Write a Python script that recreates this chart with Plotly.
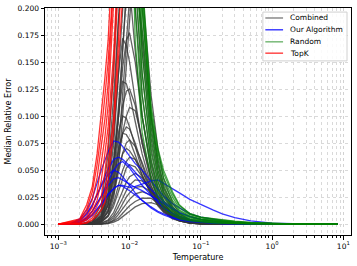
import plotly.graph_objects as go

# ---------------- data ----------------
# Combined (gray)
T_COMB = [0.001, 0.002, 0.003, 0.004, 0.005, 0.006, 0.007, 0.008, 0.009, 0.01, 0.012, 0.015,
          0.02, 0.025, 0.03, 0.04, 0.05, 0.07, 0.1, 0.2, 0.5, 1.0, 8.3]
COMBINED = [
    [0, 0, 0.002, 0.012, 0.04, 0.1, 0.19, 0.28, 0.33, 0.33, 0.26, 0.16, 0.08, 0.045, 0.028, 0.013, 0.007, 0.003, 0.001, 0, 0, 0, 0],
    [0, 0, 0.001, 0.008, 0.03, 0.075, 0.14, 0.21, 0.25, 0.26, 0.22, 0.14, 0.07, 0.04, 0.025, 0.012, 0.006, 0.002, 0.001, 0, 0, 0, 0],
    [0, 0, 0, 0.004, 0.018, 0.05, 0.1, 0.16, 0.22, 0.27, 0.29, 0.2, 0.1, 0.055, 0.033, 0.015, 0.008, 0.003, 0.001, 0, 0, 0, 0],
    [0, 0, 0.002, 0.014, 0.05, 0.12, 0.19, 0.23, 0.24, 0.22, 0.16, 0.1, 0.05, 0.03, 0.02, 0.009, 0.005, 0.002, 0.001, 0, 0, 0, 0],
    [0, 0, 0.001, 0.006, 0.025, 0.06, 0.11, 0.17, 0.22, 0.25, 0.24, 0.17, 0.09, 0.05, 0.03, 0.014, 0.007, 0.003, 0.001, 0, 0, 0, 0],
    [0, 0, 0, 0.003, 0.012, 0.035, 0.07, 0.12, 0.17, 0.21, 0.23, 0.18, 0.1, 0.06, 0.036, 0.017, 0.009, 0.004, 0.0015, 0, 0, 0, 0],
    [0, 0, 0.003, 0.018, 0.065, 0.15, 0.24, 0.3, 0.31, 0.28, 0.2, 0.12, 0.06, 0.035, 0.022, 0.01, 0.005, 0.002, 0.0007, 0, 0, 0, 0],
    [0, 0, 0, 0.002, 0.008, 0.025, 0.055, 0.1, 0.15, 0.2, 0.26, 0.22, 0.12, 0.07, 0.042, 0.02, 0.01, 0.004, 0.0015, 0, 0, 0, 0],
    [0, 0, 0.001, 0.006, 0.022, 0.055, 0.1, 0.145, 0.17, 0.177, 0.15, 0.1, 0.055, 0.032, 0.02, 0.009, 0.005, 0.002, 0.0007, 0, 0, 0, 0],
    [0, 0, 0.002, 0.01, 0.035, 0.085, 0.14, 0.172, 0.165, 0.15, 0.115, 0.075, 0.04, 0.024, 0.015, 0.007, 0.004, 0.0015, 0.0005, 0, 0, 0, 0],
    [0, 0, 0.001, 0.008, 0.027, 0.06, 0.1, 0.132, 0.13, 0.12, 0.095, 0.065, 0.036, 0.022, 0.014, 0.007, 0.004, 0.0015, 0.0005, 0, 0, 0, 0],
    [0, 0, 0.001, 0.005, 0.018, 0.045, 0.08, 0.11, 0.123, 0.125, 0.11, 0.075, 0.042, 0.025, 0.016, 0.008, 0.004, 0.0015, 0.0005, 0, 0, 0, 0],
    [0, 0, 0, 0.003, 0.012, 0.03, 0.06, 0.085, 0.1, 0.108, 0.105, 0.08, 0.045, 0.027, 0.017, 0.008, 0.004, 0.0015, 0.0005, 0, 0, 0, 0],
    [0, 0, 0.001, 0.007, 0.025, 0.055, 0.085, 0.1, 0.098, 0.09, 0.072, 0.05, 0.029, 0.018, 0.012, 0.006, 0.003, 0.001, 0.0004, 0, 0, 0, 0],
    [0, 0, 0.001, 0.005, 0.017, 0.04, 0.066, 0.084, 0.09, 0.088, 0.075, 0.055, 0.032, 0.02, 0.013, 0.006, 0.003, 0.001, 0.0004, 0, 0, 0, 0],
    [0, 0, 0.001, 0.006, 0.02, 0.045, 0.07, 0.084, 0.083, 0.078, 0.064, 0.046, 0.027, 0.017, 0.011, 0.005, 0.003, 0.001, 0.0003, 0, 0, 0, 0],
    [0, 0, 0, 0.003, 0.011, 0.028, 0.05, 0.066, 0.075, 0.078, 0.072, 0.057, 0.035, 0.022, 0.014, 0.007, 0.0035, 0.0012, 0.0004, 0, 0, 0, 0],
    [0, 0, 0.001, 0.004, 0.014, 0.032, 0.052, 0.065, 0.07, 0.068, 0.06, 0.045, 0.028, 0.018, 0.012, 0.006, 0.003, 0.001, 0.0003, 0, 0, 0, 0],
    [0, 0, 0, 0.002, 0.008, 0.02, 0.036, 0.05, 0.058, 0.062, 0.06, 0.05, 0.033, 0.022, 0.015, 0.008, 0.004, 0.0015, 0.0005, 0, 0, 0, 0],
    [0, 0, 0, 0.002, 0.007, 0.017, 0.03, 0.043, 0.052, 0.055, 0.053, 0.044, 0.03, 0.02, 0.014, 0.007, 0.004, 0.0015, 0.0005, 0, 0, 0, 0],
    [0, 0, 0, 0.001, 0.004, 0.011, 0.021, 0.031, 0.039, 0.044, 0.047, 0.043, 0.032, 0.022, 0.016, 0.009, 0.005, 0.002, 0.0007, 0, 0, 0, 0],
    [0, 0, 0, 0.001, 0.003, 0.008, 0.016, 0.024, 0.031, 0.036, 0.041, 0.04, 0.032, 0.024, 0.018, 0.01, 0.006, 0.0025, 0.0008, 0, 0, 0, 0],
    [0, 0, 0, 0, 0.002, 0.006, 0.012, 0.019, 0.025, 0.029, 0.034, 0.035, 0.03, 0.023, 0.017, 0.01, 0.006, 0.0025, 0.0009, 0, 0, 0, 0],
    [0, 0, 0, 0, 0.001, 0.004, 0.009, 0.014, 0.019, 0.023, 0.028, 0.03, 0.027, 0.021, 0.016, 0.01, 0.006, 0.0028, 0.001, 0, 0, 0, 0],
    [0, 0, 0, 0, 0.001, 0.003, 0.006, 0.01, 0.014, 0.017, 0.021, 0.024, 0.024, 0.02, 0.016, 0.01, 0.0065, 0.003, 0.0012, 0.0001, 0, 0, 0],
    [0, 0, 0, 0, 0.0005, 0.002, 0.004, 0.007, 0.01, 0.012, 0.016, 0.019, 0.02, 0.018, 0.015, 0.01, 0.007, 0.0035, 0.0015, 0.0002, 0, 0, 0],
]

# Our Algorithm (blue)
T_OURS = [0.001, 0.0015, 0.002, 0.0025, 0.003, 0.004, 0.005, 0.006, 0.007, 0.008, 0.01, 0.012, 0.015,
          0.02, 0.025, 0.03, 0.04, 0.05, 0.07, 0.1, 0.15, 0.2, 0.3, 0.5, 1.0, 2.0, 4.0, 8.3]
OURS = [
    [0, 0.0008, 0.005, 0.013, 0.024, 0.05, 0.067, 0.077, 0.076, 0.072, 0.063, 0.056, 0.05, 0.04, 0.032, 0.026, 0.019, 0.015, 0.0095, 0.0065, 0.0045, 0.003, 0.0017, 0.0008, 0.0002, 0.0001, 0, 0],
    [0, 0.0004, 0.003, 0.009, 0.017, 0.036, 0.051, 0.06, 0.062, 0.06, 0.054, 0.048, 0.041, 0.032, 0.026, 0.021, 0.015, 0.011, 0.007, 0.0045, 0.0027, 0.0017, 0.0009, 0.0004, 0.0001, 0, 0, 0],
    [0, 0.0002, 0.002, 0.006, 0.012, 0.026, 0.04, 0.05, 0.056, 0.058, 0.052, 0.045, 0.036, 0.027, 0.02, 0.015, 0.01, 0.007, 0.0045, 0.0028, 0.0017, 0.001, 0.0005, 0.0002, 0.0001, 0, 0, 0],
    [0, 0.0005, 0.004, 0.01, 0.018, 0.035, 0.046, 0.05, 0.048, 0.044, 0.036, 0.029, 0.022, 0.015, 0.011, 0.0085, 0.0055, 0.004, 0.0025, 0.0015, 0.0009, 0.0005, 0.0002, 0.0001, 0, 0, 0, 0],
    [0, 0, 0.001, 0.004, 0.008, 0.018, 0.027, 0.033, 0.036, 0.036, 0.034, 0.035, 0.037, 0.04, 0.041, 0.038, 0.033, 0.029, 0.023, 0.018, 0.013, 0.0095, 0.006, 0.003, 0.001, 0.0004, 0.0001, 0],
    [0, 0.0002, 0.0015, 0.005, 0.009, 0.019, 0.028, 0.033, 0.036, 0.035, 0.031, 0.027, 0.022, 0.016, 0.012, 0.0095, 0.0065, 0.0045, 0.003, 0.0018, 0.001, 0.0006, 0.0003, 0.0001, 0, 0, 0, 0],
    [0, 0.0003, 0.002, 0.006, 0.012, 0.025, 0.036, 0.042, 0.043, 0.041, 0.037, 0.034, 0.031, 0.026, 0.022, 0.019, 0.014, 0.0105, 0.007, 0.0045, 0.0028, 0.0018, 0.001, 0.0004, 0.0001, 0, 0, 0],
]

# Random (green)
T_RAND = [0.008, 0.01, 0.012, 0.015, 0.02, 0.025, 0.03, 0.04, 0.05, 0.07, 0.1, 0.15, 0.2, 0.3, 0.5, 1.0, 2.0, 4.0, 8.3]
RANDOM = [
    [0.6, 0.35, 0.17, 0.085, 0.042, 0.024, 0.015, 0.008, 0.005, 0.003, 0.0018, 0.0011, 0.0007, 0.0004, 0.0002, 0.0001, 0, 0, 0],
    [0.65, 0.4, 0.2, 0.1, 0.05, 0.029, 0.019, 0.01, 0.0065, 0.0038, 0.0024, 0.0015, 0.001, 0.0006, 0.0003, 0.0001, 0.00005, 0, 0],
    [0.7, 0.45, 0.24, 0.12, 0.058, 0.034, 0.022, 0.012, 0.0075, 0.0045, 0.003, 0.002, 0.0014, 0.0008, 0.0004, 0.0002, 0.0001, 0, 0],
    [0.7, 0.5, 0.28, 0.14, 0.066, 0.039, 0.026, 0.014, 0.009, 0.0052, 0.0035, 0.0024, 0.0017, 0.001, 0.0005, 0.0002, 0.0001, 0, 0],
    [0.75, 0.52, 0.31, 0.16, 0.075, 0.045, 0.03, 0.016, 0.01, 0.006, 0.004, 0.0028, 0.002, 0.0012, 0.0006, 0.0003, 0.0001, 0.00005, 0],
    [0.75, 0.55, 0.34, 0.18, 0.085, 0.05, 0.034, 0.019, 0.012, 0.007, 0.0045, 0.0032, 0.0024, 0.0015, 0.0008, 0.0004, 0.0002, 0.0001, 0],
    [0.8, 0.58, 0.36, 0.2, 0.094, 0.056, 0.038, 0.022, 0.013, 0.008, 0.005, 0.0036, 0.0028, 0.0018, 0.001, 0.0005, 0.0002, 0.0001, 0],
    [0.8, 0.6, 0.38, 0.21, 0.1, 0.062, 0.043, 0.025, 0.015, 0.009, 0.0058, 0.0041, 0.0032, 0.0021, 0.0012, 0.0006, 0.0003, 0.0001, 0],
    [0.8, 0.6, 0.4, 0.22, 0.105, 0.066, 0.047, 0.028, 0.017, 0.01, 0.0065, 0.0047, 0.0037, 0.0025, 0.0014, 0.0007, 0.0003, 0.0001, 0],
    [0.8, 0.6, 0.4, 0.23, 0.11, 0.07, 0.05, 0.03, 0.018, 0.0095, 0.0065, 0.005, 0.004, 0.0028, 0.0016, 0.0008, 0.0003, 0.0001, 0],
]

# TopK (red)
T_TOPK = [0.001, 0.002, 0.0025, 0.003, 0.0035, 0.004, 0.0045, 0.005, 0.006, 0.007, 0.008, 0.01, 0.1, 8.3]
TOPK = [
    [0, 0.005, 0.018, 0.035, 0.065, 0.1, 0.135, 0.17, 0.25, 0.32, 0.4, 0.55, 0.8, 0.9],
    [0, 0.004, 0.014, 0.03, 0.055, 0.085, 0.118, 0.15, 0.23, 0.3, 0.38, 0.5, 0.8, 0.9],
    [0, 0.003, 0.011, 0.023, 0.043, 0.07, 0.097, 0.13, 0.205, 0.28, 0.36, 0.5, 0.8, 0.9],
    [0, 0.002, 0.007, 0.016, 0.029, 0.055, 0.08, 0.11, 0.185, 0.26, 0.34, 0.48, 0.8, 0.9],
    [0, 0.001, 0.005, 0.012, 0.022, 0.04, 0.065, 0.09, 0.16, 0.24, 0.32, 0.46, 0.8, 0.9],
    [0, 0.001, 0.004, 0.009, 0.017, 0.025, 0.048, 0.075, 0.14, 0.21, 0.29, 0.42, 0.8, 0.9],
    [0, 0, 0.002, 0.006, 0.012, 0.018, 0.03, 0.055, 0.1, 0.17, 0.25, 0.4, 0.8, 0.9],
    [0, 0, 0.001, 0.004, 0.008, 0.013, 0.02, 0.04, 0.088, 0.15, 0.21, 0.38, 0.8, 0.9],
]

Y_TICKS = [0.0, 0.025, 0.05, 0.075, 0.1, 0.125, 0.15, 0.175, 0.2]
X_TICKS = [0.001, 0.01, 0.1, 1, 10]
X_TICK_TEXT = ["10<sup>−3</sup>", "10<sup>−2</sup>", "10<sup>−1</sup>", "10<sup>0</sup>", "10<sup>1</sup>"]

# ---------------- figure ----------------
fig = go.Figure()

groups = [
    ("Combined", T_COMB, COMBINED, "rgba(55,55,55,0.78)", "rgb(128,128,128)"),
    ("Our Algorithm", T_OURS, OURS, "rgba(0,0,255,0.78)", "rgb(50,50,255)"),
    ("Random", T_RAND, RANDOM, "rgba(0,128,0,0.7)", "rgb(110,180,110)"),
    ("TopK", T_TOPK, TOPK, "rgba(255,0,0,0.8)", "rgb(255,60,60)"),
]
for name, xs, series, color, _ in groups:
    for ys in series:
        fig.add_trace(go.Scatter(
            x=xs, y=ys, mode="lines", name=name,
            line=dict(color=color, width=1.3),
            showlegend=False, hoverinfo="skip",
        ))

# compact legend box (paper coordinates, like matplotlib's)
fig.add_shape(type="rect", xref="paper", yref="paper",
              x0=0.712, x1=0.987, y0=0.767, y1=0.982,
              line=dict(color="#d0d0d0", width=1), fillcolor="rgba(255,255,255,0.85)",
              layer="above")
leg_y = [0.956, 0.904, 0.851, 0.801]
for (name, _, _, _, lcol), yy in zip(groups, leg_y):
    fig.add_shape(type="line", xref="paper", yref="paper",
                  x0=0.72, x1=0.778, y0=yy, y1=yy,
                  line=dict(color=lcol, width=1.4), layer="above")
    fig.add_annotation(xref="paper", yref="paper", x=0.795, y=yy, text=name,
                       showarrow=False, xanchor="left", yanchor="middle",
                       font=dict(size=7.5, color="black"))

FONT = "DejaVu Sans, Liberation Sans, sans-serif"
grid_col = "#cfcfcf"

fig.update_layout(
    width=357, height=266,
    margin=dict(l=45, r=6, t=8, b=31),
    paper_bgcolor="white", plot_bgcolor="white",
    font=dict(family=FONT, size=7.5, color="black"),
    showlegend=False,
    xaxis=dict(
        type="log", range=[-3.187, 1.108],
        tickvals=X_TICKS, ticktext=X_TICK_TEXT,
        showline=True, linecolor="black", linewidth=1, mirror=True,
        ticks="outside", ticklen=3.5, tickcolor="black",
        showgrid=True, gridcolor=grid_col, griddash="dot", gridwidth=0.8,
        minor=dict(dtick="D1", ticks="outside", ticklen=2, tickcolor="black",
                   showgrid=True, gridcolor=grid_col, griddash="dot", gridwidth=0.8),
        zeroline=False, automargin=False,
        title=dict(text="Temperature", font=dict(size=8), standoff=4),
    ),
    yaxis=dict(
        range=[-0.01, 0.2],
        tickvals=Y_TICKS, tickformat=".3f",
        showline=True, linecolor="black", linewidth=1, mirror=True,
        ticks="outside", ticklen=3.5, tickcolor="black",
        showgrid=True, gridcolor=grid_col, griddash="dot", gridwidth=0.8,
        zeroline=False, automargin=False,
        title=dict(text="Median Relative Error", font=dict(size=8), standoff=4),
    ),
)

fig.write_html("out.html",
               config={"displayModeBar": False, "staticPlot": True},
               post_script="document.body.style.margin='0';document.body.style.padding='0';")
